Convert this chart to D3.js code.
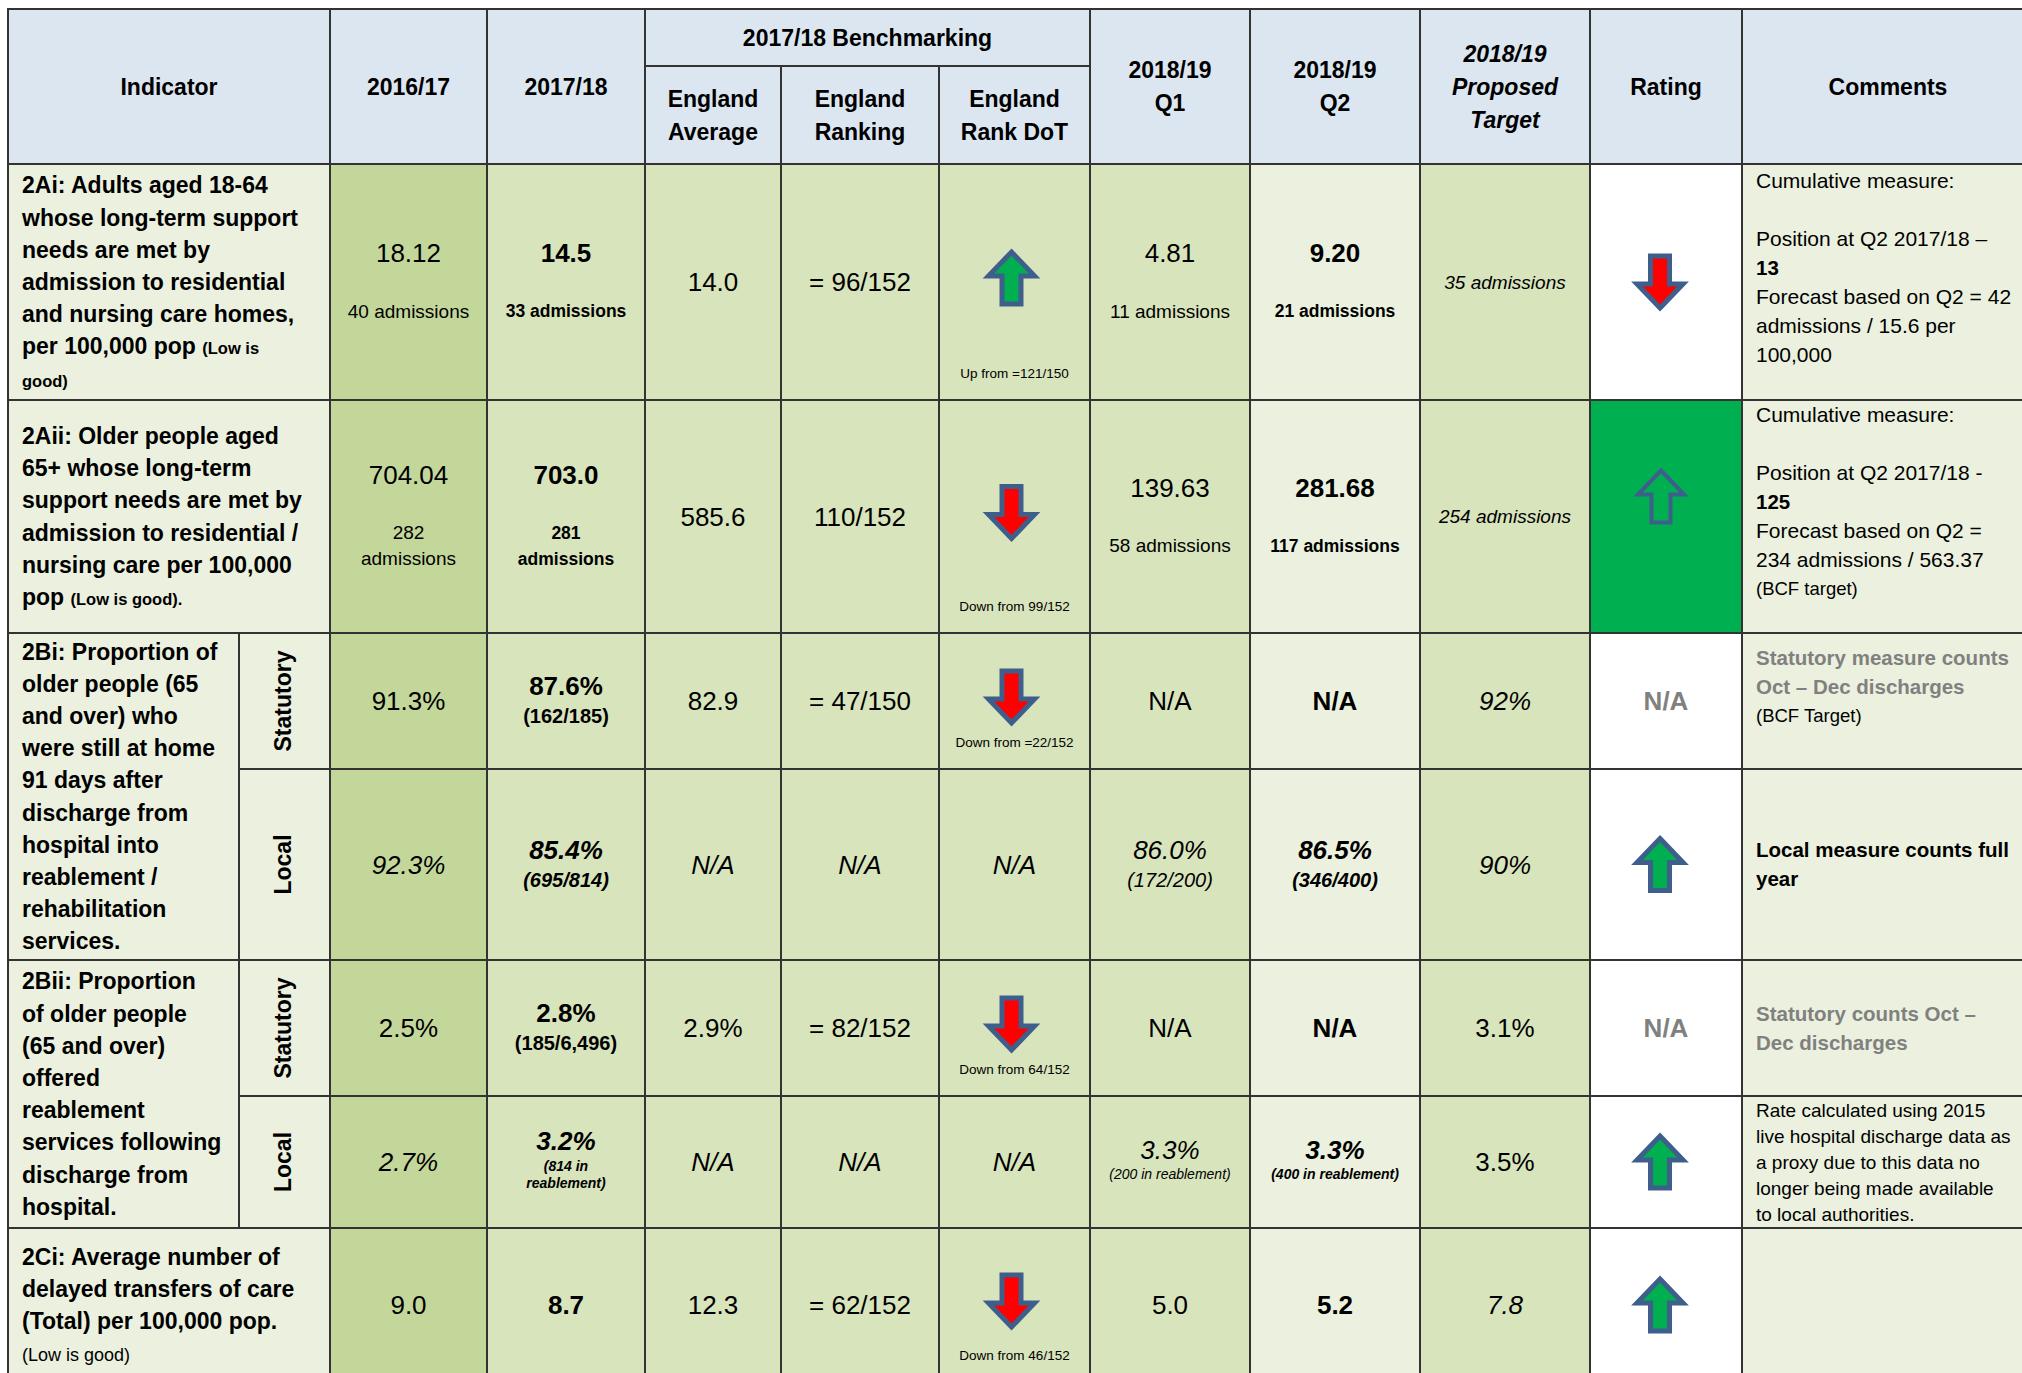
<!DOCTYPE html>
<html>
<head>
<meta charset="utf-8">
<script src="https://cdn.jsdelivr.net/npm/d3@7"></script>
<style>
  body { margin: 0; background: #fff; }
  svg text { font-family: "Liberation Sans", Arial, sans-serif; }
</style>
</head>
<body>
<svg id="chart" width="2022" height="1373"></svg>
<script>
var headers = {
  ind: ['Indicator'], y16: ['2016/17'], y17: ['2017/18'],
  avg: ['England', 'Average'], rank: ['England', 'Ranking'], dot: ['England', 'Rank DoT'],
  q1: ['2018/19', 'Q1'], q2: ['2018/19', 'Q2'], tgt: ['2018/19', 'Proposed', 'Target'],
  rating: ['Rating'], comm: ['Comments']
};
var benchTitle = '2017/18 Benchmarking';

// ^ = small bold run, _ = small normal run
var indicators = [
  ['2Ai: Adults aged 18-64', 'whose long-term support', 'needs are met by', 'admission to residential', 'and nursing care homes,', 'per 100,000 pop ^(Low is', '^good)'],
  ['2Aii: Older people aged', '65+ whose long-term', 'support needs are met by', 'admission to residential /', 'nursing care per 100,000', 'pop ^(Low is good).'],
  ['2Bi: Proportion of', 'older people (65', 'and over) who', 'were still at home', '91 days after', 'discharge from', 'hospital into', 'reablement /', 'rehabilitation', 'services.'],
  ['2Bii: Proportion', 'of older people', '(65 and over)', 'offered', 'reablement', 'services following', 'discharge from', 'hospital.'],
  ['2Ci: Average number of', 'delayed transfers of care', '(Total) per 100,000 pop.', '_(Low is good)']
];
var indicatorRows = [[0], [1], [2, 3], [4, 5], [6]];
var measureType = [null, null, 'Statutory', 'Local', 'Statutory', 'Local', null];

var v2016 = ['18.12', '704.04', '91.3%', '92.3%', '2.5%', '2.7%', '9.0'];
var n2016 = ['40 admissions', '282|admissions', '', '', '', '', ''];
var v2017 = ['14.5', '703.0', '87.6%', '85.4%', '2.8%', '3.2%', '8.7'];
var n2017 = ['33 admissions', '281|admissions', '(162/185)', '(695/814)', '(185/6,496)', '(814 in|reablement)', ''];
var engAvg = ['14.0', '585.6', '82.9', 'N/A', '2.9%', 'N/A', '12.3'];
var engRank = ['= 96/152', '110/152', '= 47/150', 'N/A', '= 82/152', 'N/A', '= 62/152'];
var rankDot = ['up', 'down', 'down', 'N/A', 'down', 'N/A', 'down'];
var rankDotNote = ['Up from =121/150', 'Down from 99/152', 'Down from =22/152', '', 'Down from 64/152', '', 'Down from 46/152'];
var q1 = ['4.81', '139.63', 'N/A', '86.0%', 'N/A', '3.3%', '5.0'];
var q1Note = ['11 admissions', '58 admissions', '', '(172/200)', '', '(200 in reablement)', ''];
var q2 = ['9.20', '281.68', 'N/A', '86.5%', 'N/A', '3.3%', '5.2'];
var q2Note = ['21 admissions', '117 admissions', '', '(346/400)', '', '(400 in reablement)', ''];
var target = ['35 admissions', '254 admissions', '92%', '90%', '3.1%', '3.5%', '7.8'];
var rating = ['down', 'hollow', 'N/A', 'up', 'N/A', 'up', 'up'];

// * = bold line, # = grey bold line, ~ = small line
var comments = [
  ['Cumulative measure:', '', 'Position at Q2 2017/18 –', '*13', 'Forecast based on Q2 = 42', 'admissions / 15.6 per', '100,000', ''],
  ['Cumulative measure:', '', 'Position at Q2 2017/18 -', '*125', 'Forecast based on Q2 =', '234 admissions / 563.37', '~(BCF target)', ''],
  ['#Statutory measure counts', '#Oct – Dec discharges', '~(BCF Target)', ''],
  ['*Local measure counts full', '*year'],
  ['#Statutory counts Oct –', '#Dec discharges'],
  ['Rate calculated using 2015', 'live hospital discharge data as', 'a proxy due to this data no', 'longer being made available', 'to local authorities.'],
  []
];

// ---- layout ----
var colKeys = ['ind', 'type', 'y16', 'y17', 'avg', 'rank', 'dot', 'q1', 'q2', 'tgt', 'rating', 'comm'];
var colEdges = [8, 239, 330, 487, 645, 781, 939, 1090, 1250, 1420, 1590, 1742, 2034];
var rowEdges = [164, 400, 633, 769, 960, 1096, 1228, 1382];
var headTop = 9, headMid = 66;

var x = d3.scaleOrdinal().domain(colKeys).range(colEdges.slice(0, -1));
var xEnd = d3.scaleOrdinal().domain(colKeys).range(colEdges.slice(1));
var y = d3.scaleOrdinal().domain(d3.range(7)).range(rowEdges.slice(0, -1));
var yEnd = d3.scaleOrdinal().domain(d3.range(7)).range(rowEdges.slice(1));
var cx = function (k) { return (x(k) + xEnd(k)) / 2; };
var cy = function (i) { return (y(i) + yEnd(i)) / 2; };

var colFill = {
  y16: '#c4d79b', y17: '#d8e4bc', avg: '#d8e4bc', rank: '#d8e4bc', dot: '#d8e4bc',
  q1: '#d8e4bc', q2: '#ebf1de', tgt: '#d8e4bc', rating: '#ffffff', comm: '#ebf1de'
};
var HEAD = '#dce6f1', PALE = '#ebf1de', LINE = '#333', GREY = '#808080';
var ARROW_EDGE = '#3e5f8c', GREEN = '#00b050', RED = '#ff0000';

var svg = d3.select('#chart');

function cell(x0, y0, x1, y1, fill) {
  svg.append('rect').attr('x', x0).attr('y', y0).attr('width', x1 - x0).attr('height', y1 - y0)
    .attr('fill', fill).attr('stroke', LINE).attr('stroke-width', 2);
}

function label(px, py, str, o) {
  return svg.append('text').attr('x', px).attr('y', py).attr('dy', '0.35em')
    .attr('text-anchor', o.anchor || 'middle')
    .style('font-size', o.size + 'px')
    .style('font-weight', o.bold ? 'bold' : 'normal')
    .style('font-style', o.italic ? 'italic' : 'normal')
    .style('fill', o.color || '#000')
    .text(str);
}

// block arrow centred on (ax, ay)
function arrow(ax, ay, dir, hollow) {
  var W = 46, H = 52, head = 24, s = 19, f = dir === 'down' ? -1 : 1;
  var pts = [[0, -H / 2], [W / 2, -H / 2 + head], [s / 2, -H / 2 + head], [s / 2, H / 2],
    [-s / 2, H / 2], [-s / 2, -H / 2 + head], [-W / 2, -H / 2 + head]];
  svg.append('path')
    .attr('d', d3.line()(pts.map(function (p) { return [ax + p[0], ay + f * p[1]]; })) + 'Z')
    .attr('fill', hollow ? 'none' : (dir === 'down' ? RED : GREEN))
    .attr('stroke', ARROW_EDGE).attr('stroke-width', hollow ? 4 : 5)
    .attr('stroke-linejoin', 'miter');
}

// ---- header ----
cell(x('ind'), headTop, xEnd('type'), rowEdges[0], HEAD);
['y16', 'y17', 'q1', 'q2', 'tgt', 'rating', 'comm'].forEach(function (k) {
  cell(x(k), headTop, xEnd(k), rowEdges[0], HEAD);
});
cell(x('avg'), headTop, xEnd('dot'), headMid, HEAD);
['avg', 'rank', 'dot'].forEach(function (k) { cell(x(k), headMid, xEnd(k), rowEdges[0], HEAD); });

Object.keys(headers).forEach(function (k) {
  var lines = headers[k];
  var mid = ['avg', 'rank', 'dot'].indexOf(k) >= 0 ? (headMid + rowEdges[0]) / 2 : (headTop + rowEdges[0]) / 2;
  var hx = k === 'ind' ? (x('ind') + xEnd('type')) / 2 : cx(k);
  lines.forEach(function (t, j) {
    label(hx, mid + (j - (lines.length - 1) / 2) * 33, t, { size: 23, bold: true, italic: k === 'tgt' });
  });
});
label((x('avg') + xEnd('dot')) / 2, (headTop + headMid) / 2, benchTitle, { size: 23, bold: true });

// ---- body cells ----
var cells = [];
d3.range(7).forEach(function (i) {
  Object.keys(colFill).forEach(function (k) {
    cells.push({ i: i, k: k, fill: (k === 'rating' && rating[i] === 'hollow') ? GREEN : colFill[k] });
  });
});
svg.append('g').selectAll('rect').data(cells).join('rect')
  .attr('x', function (d) { return x(d.k); })
  .attr('y', function (d) { return y(d.i); })
  .attr('width', function (d) { return xEnd(d.k) - x(d.k); })
  .attr('height', function (d) { return yEnd(d.i) - y(d.i); })
  .attr('fill', function (d) { return d.fill; })
  .attr('stroke', LINE).attr('stroke-width', 2);

// indicator cells, with the Statutory / Local split where there is one
indicators.forEach(function (lines, g) {
  var rows = indicatorRows[g];
  var top = y(rows[0]), bot = yEnd(rows[rows.length - 1]);
  var split = measureType[rows[0]] !== null;
  cell(x('ind'), top, split ? xEnd('ind') : xEnd('type'), bot, PALE);
  if (split) {
    rows.forEach(function (i) {
      cell(x('type'), y(i), xEnd('type'), yEnd(i), PALE);
      label(0, 0, measureType[i], { size: 23, bold: true })
        .attr('transform', 'translate(' + (cx('type') - 2) + ',' + cy(i) + ') rotate(-90)');
    });
  }
  var mid = (top + bot) / 2, step = 32.2;
  lines.forEach(function (t, j) {
    var ty = mid + (j - (lines.length - 1) / 2) * step;
    var m = t.search(/[\^_]/);
    var txt = label(x('ind') + 14, ty, '', { size: 23, bold: true, anchor: 'start' });
    if (m < 0) { txt.text(t); return; }
    if (m > 0) txt.append('tspan').text(t.slice(0, m));
    txt.append('tspan').text(t.slice(m + 1))
      .style('font-size', t[m] === '^' ? '16.5px' : '18px')
      .style('font-weight', t[m] === '^' ? 'bold' : 'normal');
  });
});

// value + note stacks
var local = function (i) { return i === 3 || i === 5; };
var italicTarget = [0, 1, 2, 3, 6];
function stack(k, i, value, note) {
  var bold = k === 'y17' || k === 'q2';
  var italic = k === 'tgt' ? italicTarget.indexOf(i) >= 0 : local(i);
  var notes = note ? note.split('|') : [];
  var tiny = note && note.indexOf('reablement') >= 0;
  var items = [{ t: value, size: 26, pos: 0 }];
  var lead = i < 2 ? 58 : (tiny ? 25 : 30), step = i < 2 ? 26 : 17;
  notes.forEach(function (t, j) {
    items.push({ t: t, size: i < 2 ? (bold ? 17.5 : 19) : (tiny ? 14 : 20), pos: lead + j * step });
  });
  if (k === 'tgt' && i < 2) items[0].size = 19;
  var shift = cy(i) - items[items.length - 1].pos / 2;
  items.forEach(function (d) {
    label(cx(k), shift + d.pos, d.t, { size: d.size, bold: bold, italic: italic });
  });
}

d3.range(7).forEach(function (i) {
  stack('y16', i, v2016[i], n2016[i]);
  stack('y17', i, v2017[i], n2017[i]);
  stack('avg', i, engAvg[i]);
  stack('rank', i, engRank[i]);
  stack('q1', i, q1[i], q1Note[i]);
  stack('q2', i, q2[i], q2Note[i]);
  stack('tgt', i, target[i]);

  if (rankDot[i] === 'N/A') {
    stack('dot', i, 'N/A');
  } else {
    arrow(cx('dot') - 3, cy(i) - 4, rankDot[i], false);
    label(cx('dot'), yEnd(i) - 27, rankDotNote[i], { size: 13.5 });
  }

  if (rating[i] === 'N/A') {
    label(cx('rating'), cy(i), 'N/A', { size: 26, bold: true, color: GREY });
  } else if (rating[i] === 'hollow') {
    arrow(cx('rating') - 5, cy(i) - 20, 'up', true);
  } else {
    arrow(cx('rating') - 6, cy(i), rating[i], false);
  }

  var lines = comments[i], step = i === 5 ? 26 : 29;
  lines.forEach(function (t, j) {
    var o = { size: i === 5 ? 19 : 21, anchor: 'start' };
    if (t[0] === '*') { o.bold = true; o.size = 20.5; t = t.slice(1); }
    else if (t[0] === '#') { o.bold = true; o.color = GREY; t = t.slice(1); o.size = 20.5; }
    else if (t[0] === '~') { o.size = 18.5; t = t.slice(1); }
    label(x('comm') + 14, cy(i) + (j - (lines.length - 1) / 2) * step, t, o);
  });
});
</script>
</body>
</html>
